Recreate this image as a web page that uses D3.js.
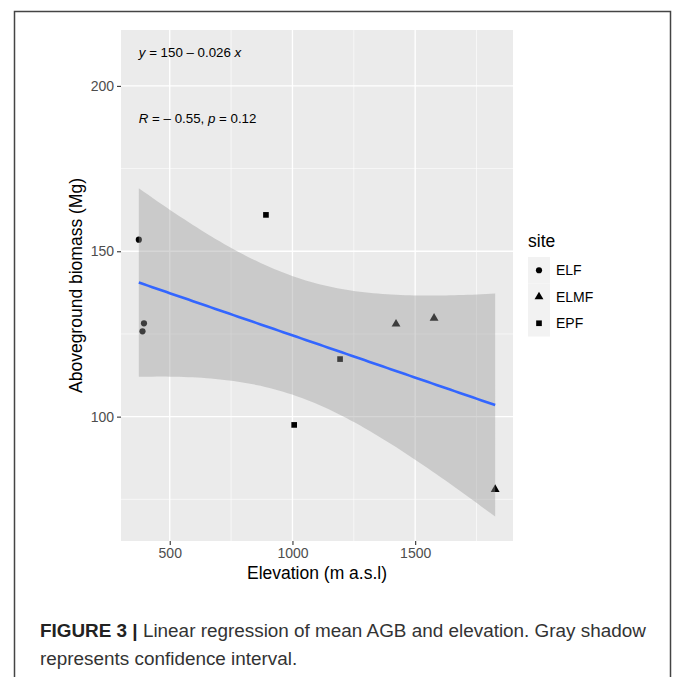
<!DOCTYPE html>
<html>
<head>
<meta charset="utf-8">
<script src="https://cdn.jsdelivr.net/npm/d3@7"></script>
<style>
    body { margin: 0; background: #fff; }
    svg { display: block; font-family: "Liberation Sans", Arial, sans-serif; }
</style>
</head>
<body>
<div id="chart"></div>
<script>
const sites = ["ELF", "ELMF", "EPF"];
const pointSite = ["ELF", "ELF", "ELF", "EPF", "EPF", "EPF", "ELMF", "ELMF", "ELMF"];
const elevation = [374, 395, 389, 892, 1194, 1007, 1422, 1577, 1826];
const biomass = [153.5, 128.2, 125.8, 161.0, 117.4, 97.5, 128.0, 129.8, 78.0];
const xTicks = [500, 1000, 1500];
const xMinor = [750, 1250, 1750];
const yTicks = [100, 150, 200];
const yMinor = [75, 125, 175];
const yDomain = [62.4, 216.9];
const tCrit = 2.3646; // t(0.975, df = 7)

const width = 673;
const height = 677;
const panel = { left: 121, top: 30, right: 513, bottom: 541 };

const points = elevation.map((x, i) => ({ x, y: biomass[i], site: pointSite[i] }));

// least squares fit, same as geom_smooth(method = "lm")
const n = points.length;
const mx = d3.mean(points, (d) => d.x);
const my = d3.mean(points, (d) => d.y);
const sxx = d3.sum(points, (d) => (d.x - mx) ** 2);
const sxy = d3.sum(points, (d) => (d.x - mx) * (d.y - my));
const slope = sxy / sxx;
const intercept = my - slope * mx;
const sse = d3.sum(points, (d) => (d.y - intercept - slope * d.x) ** 2);
const sigma = Math.sqrt(sse / (n - 2));

const [xMin, xMax] = d3.extent(points, (d) => d.x);
const band = d3.range(80).map((i) => {
    const x = xMin + (xMax - xMin) * i / 79;
    const fit = intercept + slope * x;
    const se = sigma * Math.sqrt(1 / n + (x - mx) ** 2 / sxx);
    return { x, fit, lo: fit - tCrit * se, hi: fit + tCrit * se };
});

const pad = (xMax - xMin) * 0.05;
const xScale = d3.scaleLinear()
    .domain([xMin - pad, xMax + pad])
    .range([panel.left, panel.right]);
const yScale = d3.scaleLinear()
    .domain(yDomain)
    .range([panel.bottom, panel.top]);

const shapeScale = d3.scaleOrdinal()
    .domain(sites)
    .range([d3.symbolCircle, d3.symbolTriangle, d3.symbolSquare]);
const sizeScale = d3.scaleOrdinal()
    .domain(sites)
    .range([30, 34, 32]);

const svg = d3.select("#chart").append("svg")
    .attr("width", width)
    .attr("height", height)
    .attr("viewBox", [0, 0, width, height]);

// outer frame of the figure
svg.append("rect")
    .attr("x", 14.5)
    .attr("y", 11.5)
    .attr("width", 656)
    .attr("height", 700)
    .attr("fill", "none")
    .attr("stroke", "#444")
    .attr("stroke-width", 1.5);

svg.append("rect")
    .attr("x", panel.left)
    .attr("y", panel.top)
    .attr("width", panel.right - panel.left)
    .attr("height", panel.bottom - panel.top)
    .attr("fill", "#ebebeb");

const grid = svg.append("g").attr("stroke", "#fff").attr("fill", "none");
grid.selectAll(".minor-x").data(xMinor).join("line")
    .attr("x1", (d) => xScale(d)).attr("x2", (d) => xScale(d))
    .attr("y1", panel.top).attr("y2", panel.bottom)
    .attr("stroke-width", 0.6);
grid.selectAll(".minor-y").data(yMinor).join("line")
    .attr("y1", (d) => yScale(d)).attr("y2", (d) => yScale(d))
    .attr("x1", panel.left).attr("x2", panel.right)
    .attr("stroke-width", 0.6);
grid.selectAll(".major-x").data(xTicks).join("line")
    .attr("x1", (d) => xScale(d)).attr("x2", (d) => xScale(d))
    .attr("y1", panel.top).attr("y2", panel.bottom)
    .attr("stroke-width", 1.3);
grid.selectAll(".major-y").data(yTicks).join("line")
    .attr("y1", (d) => yScale(d)).attr("y2", (d) => yScale(d))
    .attr("x1", panel.left).attr("x2", panel.right)
    .attr("stroke-width", 1.3);

// points first, the ribbon goes over them like ggplot does
svg.append("g")
    .selectAll("path")
    .data(points)
    .join("path")
    .attr("transform", (d) => `translate(${xScale(d.x)},${yScale(d.y)})`)
    .attr("d", (d) => d3.symbol(shapeScale(d.site), sizeScale(d.site))())
    .attr("fill", "#000");

svg.append("path")
    .datum(band)
    .attr("fill", "#999999")
    .attr("fill-opacity", 0.4)
    .attr("d", d3.area()
        .x((d) => xScale(d.x))
        .y0((d) => yScale(d.lo))
        .y1((d) => yScale(d.hi)));

svg.append("path")
    .datum(band)
    .attr("fill", "none")
    .attr("stroke", "#3366ff")
    .attr("stroke-width", 2.6)
    .attr("d", d3.line()
        .x((d) => xScale(d.x))
        .y((d) => yScale(d.fit)));

// axes
const xAxis = svg.append("g")
    .attr("transform", `translate(0,${panel.bottom})`)
    .call(d3.axisBottom(xScale).tickValues(xTicks).tickFormat(d3.format("d")).tickSize(4).tickPadding(3));
const yAxis = svg.append("g")
    .attr("transform", `translate(${panel.left},0)`)
    .call(d3.axisLeft(yScale).tickValues(yTicks).tickFormat(d3.format("d")).tickSize(4).tickPadding(3));
[xAxis, yAxis].forEach((axis) => {
    axis.select(".domain").remove();
    axis.selectAll(".tick line").attr("stroke", "#333").attr("stroke-width", 1.1);
    axis.selectAll(".tick text")
        .attr("fill", "#4d4d4d")
        .attr("font-size", 14)
        .attr("font-family", "Liberation Sans, Arial, sans-serif");
});

svg.append("text")
    .attr("x", (panel.left + panel.right) / 2)
    .attr("y", 579)
    .attr("text-anchor", "middle")
    .attr("font-size", 17.5)
    .attr("fill", "#000")
    .text("Elevation (m a.s.l)");

svg.append("text")
    .attr("transform", `translate(82,${(panel.top + panel.bottom) / 2}) rotate(-90)`)
    .attr("text-anchor", "middle")
    .attr("font-size", 17.5)
    .attr("fill", "#000")
    .text("Aboveground biomass (Mg)");

// regression annotations
const eq = svg.append("text")
    .attr("x", xScale(xMin))
    .attr("y", 57)
    .attr("font-size", 13.3)
    .attr("fill", "#000");
eq.append("tspan").attr("font-style", "italic").text("y");
eq.append("tspan").text(` = ${Math.round(intercept)} \u2013 ${Math.abs(slope).toFixed(3)} `);
eq.append("tspan").attr("font-style", "italic").text("x");

const rValue = sxy / Math.sqrt(sxx * d3.sum(points, (d) => (d.y - my) ** 2));
const stat = svg.append("text")
    .attr("x", xScale(xMin))
    .attr("y", 123)
    .attr("font-size", 13.3)
    .attr("fill", "#000");
stat.append("tspan").attr("font-style", "italic").text("R");
stat.append("tspan").text(` = \u2013 ${Math.abs(rValue).toFixed(2)}, `);
stat.append("tspan").attr("font-style", "italic").text("p");
stat.append("tspan").text(" = 0.12");

// legend
const legend = svg.append("g").attr("transform", "translate(528,0)");
legend.append("text")
    .attr("x", 0)
    .attr("y", 247)
    .attr("font-size", 17.5)
    .attr("fill", "#000")
    .text("site");
const keySize = 26.5;
const keys = legend.selectAll(".key")
    .data(sites)
    .join("g")
    .attr("transform", (d, i) => `translate(0,${257 + i * keySize})`);
keys.append("rect")
    .attr("width", 22)
    .attr("height", keySize)
    .attr("fill", "#f2f2f2");
keys.append("path")
    .attr("transform", `translate(11,${keySize / 2})`)
    .attr("d", (d) => d3.symbol(shapeScale(d), sizeScale(d))())
    .attr("fill", "#000");
keys.append("text")
    .attr("x", 28)
    .attr("y", keySize / 2)
    .attr("dominant-baseline", "central")
    .attr("font-size", 14)
    .attr("fill", "#000")
    .text((d) => d);

// caption
const caption = svg.append("g").attr("font-size", 18.9).attr("fill", "#333");
const line1 = caption.append("text").attr("x", 40).attr("y", 637);
line1.append("tspan").attr("font-weight", "bold").attr("fill", "#222").text("FIGURE 3 | ");
line1.append("tspan").text("Linear regression of mean AGB and elevation. Gray shadow");
caption.append("text").attr("x", 40).attr("y", 665)
    .text("represents confidence interval.");
</script>
</body>
</html>
